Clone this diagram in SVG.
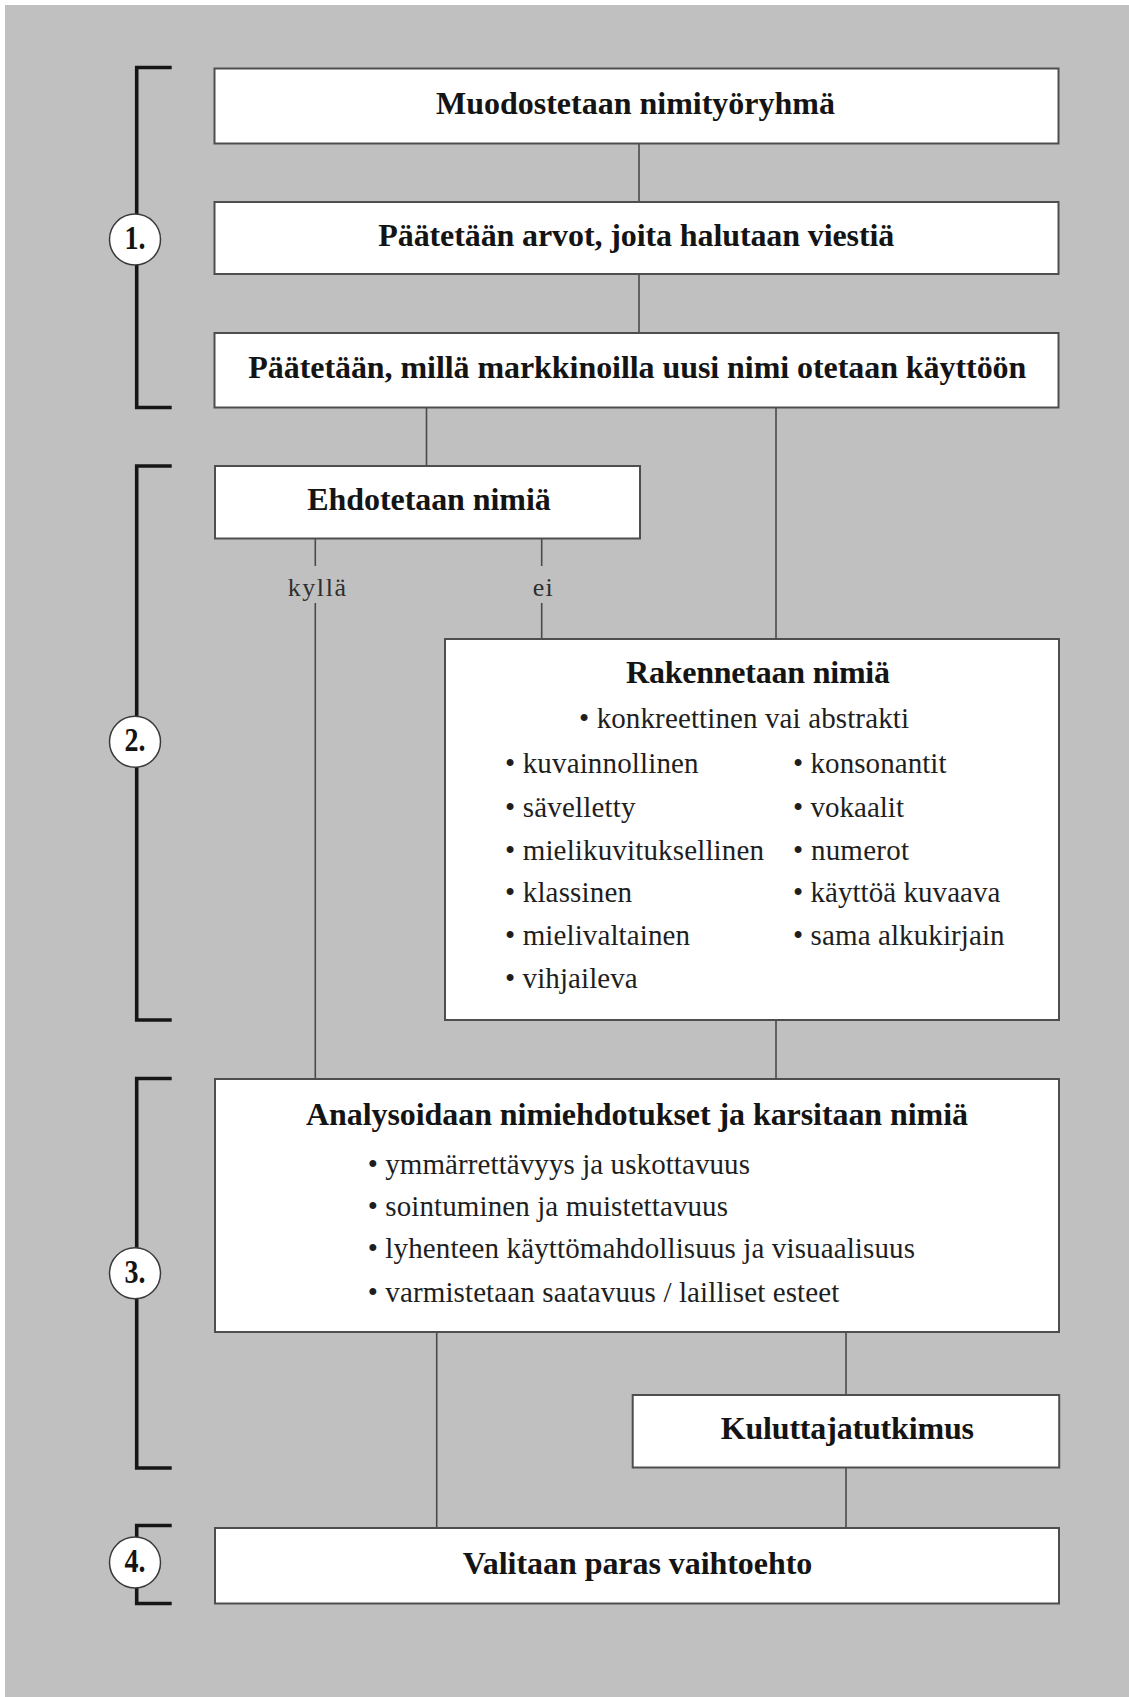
<svg xmlns="http://www.w3.org/2000/svg" width="1129" height="1697" viewBox="0 0 1129 1697">
  <style>
    .bg { fill: #c0c0c0; }
    .box { fill: #ffffff; stroke: #4e4e4e; stroke-width: 2; }
    .conn { stroke: #4a4a4a; stroke-width: 1.6; fill: none; }
    .brk { stroke: #161616; stroke-width: 3.6; fill: none; stroke-linejoin: miter; }
    .num { fill: #ffffff; stroke: #3a3a3a; stroke-width: 1.5; }
    .h { font-family: "Liberation Serif", "Times New Roman", serif; font-weight: bold; font-size: 32px; fill: #141414; }
    .t { font-family: "Liberation Serif", "Times New Roman", serif; font-size: 29px; fill: #1e1e1e; }
    .lbl { font-family: "Liberation Serif", "Times New Roman", serif; font-size: 26px; fill: #2e2e2e; }
    .n { font-family: "Liberation Serif", "Times New Roman", serif; font-weight: bold; font-size: 33px; fill: #141414; text-anchor: middle; }
  </style>

  <!-- page -->
  <rect x="0" y="0" width="1129" height="1697" fill="#ffffff"/>
  <rect class="bg" x="5" y="5" width="1124" height="1692"/>

  <!-- phase brackets with numbered markers -->
  <g id="phase-brackets">
    <path class="brk" d="M171.7,67.5 H136.7 V407.5 H171.7"/>
    <path class="brk" d="M171.7,466 H136.7 V1020 H171.7"/>
    <path class="brk" d="M171.7,1078.5 H136.7 V1468 H171.7"/>
    <path class="brk" d="M171.7,1525.5 H136.7 V1603.5 H171.7"/>
    <g id="phase-1">
      <circle class="num" cx="135" cy="239.5" r="25.5"/>
      <text class="n" x="135" y="249" textLength="21" lengthAdjust="spacingAndGlyphs">1.</text>
    </g>
    <g id="phase-2">
      <circle class="num" cx="135" cy="741.7" r="25.5"/>
      <text class="n" x="135" y="751.2" textLength="21" lengthAdjust="spacingAndGlyphs">2.</text>
    </g>
    <g id="phase-3">
      <circle class="num" cx="135" cy="1273.3" r="25.5"/>
      <text class="n" x="135" y="1282.8" textLength="21" lengthAdjust="spacingAndGlyphs">3.</text>
    </g>
    <g id="phase-4">
      <circle class="num" cx="135" cy="1562.5" r="25.5"/>
      <text class="n" x="135" y="1572" textLength="21" lengthAdjust="spacingAndGlyphs">4.</text>
    </g>
  </g>

  <!-- connectors -->
  <g id="connectors">
    <line class="conn" x1="639" y1="143.5" x2="639" y2="202"/>
    <line class="conn" x1="639" y1="274" x2="639" y2="333"/>
    <line class="conn" x1="426.5" y1="407.5" x2="426.5" y2="466"/>
    <line class="conn" x1="776" y1="407.5" x2="776" y2="639"/>
    <line class="conn" x1="315.3" y1="538.5" x2="315.3" y2="566"/>
    <line class="conn" x1="315.3" y1="603" x2="315.3" y2="1079"/>
    <line class="conn" x1="541.7" y1="538.5" x2="541.7" y2="566"/>
    <line class="conn" x1="541.7" y1="603" x2="541.7" y2="639"/>
    <line class="conn" x1="776" y1="1020" x2="776" y2="1079"/>
    <line class="conn" x1="436.7" y1="1332" x2="436.7" y2="1528"/>
    <line class="conn" x1="846" y1="1332" x2="846" y2="1395"/>
    <line class="conn" x1="846" y1="1467.5" x2="846" y2="1528"/>
    <text class="lbl" x="287.7" y="596" textLength="58.3">kyllä</text>
    <text class="lbl" x="532.7" y="596" textLength="20">ei</text>
  </g>

  <!-- steps -->
  <g id="step-team">
    <rect class="box" x="214.5" y="68.5" width="844" height="75"/>
    <text class="h" x="436" y="114" textLength="399">Muodostetaan nimityöryhmä</text>
  </g>

  <g id="step-values">
    <rect class="box" x="214.5" y="202" width="844" height="72"/>
    <text class="h" x="378.3" y="246" textLength="516">Päätetään arvot, joita halutaan viestiä</text>
  </g>

  <g id="step-markets">
    <rect class="box" x="214.5" y="333" width="844" height="74.5"/>
    <text class="h" x="248.3" y="377.5" textLength="778">Päätetään, millä markkinoilla uusi nimi otetaan käyttöön</text>
  </g>

  <g id="step-propose">
    <rect class="box" x="215" y="466" width="425" height="72.5"/>
    <text class="h" x="307.3" y="510" textLength="243.4">Ehdotetaan nimiä</text>
  </g>

  <g id="step-build">
    <rect class="box" x="445" y="639" width="614" height="381"/>
    <text class="h" x="626" y="683" textLength="264">Rakennetaan nimiä</text>
    <text class="t" x="579" y="728" textLength="330">• konkreettinen vai abstrakti</text>
    <text class="t" x="505" y="772.5" textLength="193.6">• kuvainnollinen</text>
    <text class="t" x="505" y="816.7" textLength="130.6">• sävelletty</text>
    <text class="t" x="505" y="859.5" textLength="259">• mielikuvituksellinen</text>
    <text class="t" x="505" y="901.7" textLength="127">• klassinen</text>
    <text class="t" x="505" y="945" textLength="185">• mielivaltainen</text>
    <text class="t" x="505" y="987.5" textLength="132.7">• vihjaileva</text>
    <text class="t" x="793" y="772.5" textLength="153.5">• konsonantit</text>
    <text class="t" x="793" y="816.7" textLength="111">• vokaalit</text>
    <text class="t" x="793" y="859.5" textLength="116">• numerot</text>
    <text class="t" x="793" y="901.7" textLength="207.4">• käyttöä kuvaava</text>
    <text class="t" x="793" y="945" textLength="211.6">• sama alkukirjain</text>
  </g>

  <g id="step-analyse">
    <rect class="box" x="215" y="1079" width="844" height="253"/>
    <text class="h" x="306" y="1125" textLength="662">Analysoidaan nimiehdotukset ja karsitaan nimiä</text>
    <text class="t" x="367.7" y="1174" textLength="382.3">• ymmärrettävyys ja uskottavuus</text>
    <text class="t" x="367.7" y="1216" textLength="360.3">• sointuminen ja muistettavuus</text>
    <text class="t" x="367.7" y="1258" textLength="547.3">• lyhenteen käyttömahdollisuus ja visuaalisuus</text>
    <text class="t" x="367.7" y="1302" textLength="471.6">• varmistetaan saatavuus / lailliset esteet</text>
  </g>

  <g id="step-research">
    <rect class="box" x="632.7" y="1395" width="426.5" height="72.5"/>
    <text class="h" x="720.7" y="1439.3" textLength="253.3">Kuluttajatutkimus</text>
  </g>

  <g id="step-choose">
    <rect class="box" x="215" y="1528" width="844" height="75.5"/>
    <text class="h" x="462.7" y="1574" textLength="349.6">Valitaan paras vaihtoehto</text>
  </g>
</svg>
